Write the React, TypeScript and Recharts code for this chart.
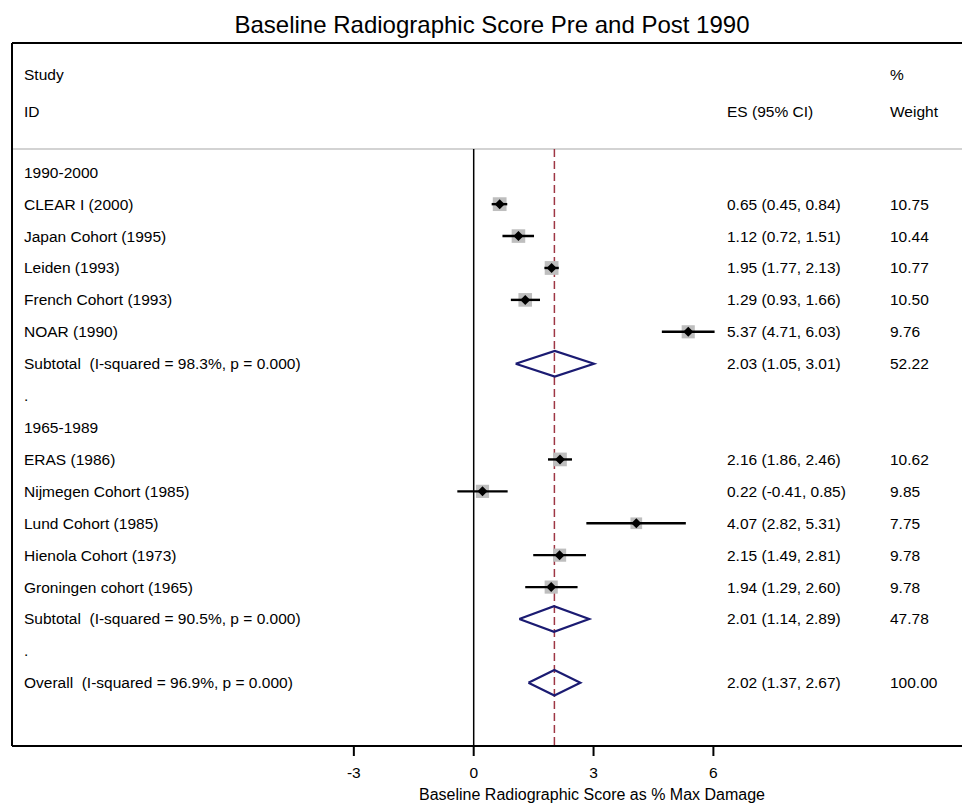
import React from "react";
import { ComposedChart, Scatter, XAxis, YAxis, ReferenceLine } from "recharts";

// rows of the forest plot, top to bottom
const labels = [
  "1990-2000",
  "CLEAR I (2000)",
  "Japan Cohort (1995)",
  "Leiden (1993)",
  "French Cohort (1993)",
  "NOAR (1990)",
  "Subtotal  (I-squared = 98.3%, p = 0.000)",
  ".",
  "1965-1989",
  "ERAS (1986)",
  "Nijmegen Cohort (1985)",
  "Lund Cohort (1985)",
  "Hienola Cohort (1973)",
  "Groningen cohort (1965)",
  "Subtotal  (I-squared = 90.5%, p = 0.000)",
  ".",
  "Overall  (I-squared = 96.9%, p = 0.000)",
];
const kinds = [
  "group", "study", "study", "study", "study", "study", "pooled", "blank",
  "group", "study", "study", "study", "study", "study", "pooled", "blank", "pooled",
];
const es = [null, 0.65, 1.12, 1.95, 1.29, 5.37, 2.03, null, null, 2.16, 0.22, 4.07, 2.15, 1.94, 2.01, null, 2.02];
const lcl = [null, 0.45, 0.72, 1.77, 0.93, 4.71, 1.05, null, null, 1.86, -0.41, 2.82, 1.49, 1.29, 1.14, null, 1.37];
const ucl = [null, 0.84, 1.51, 2.13, 1.66, 6.03, 3.01, null, null, 2.46, 0.85, 5.31, 2.81, 2.6, 2.89, null, 2.67];
const weights = [null, 10.75, 10.44, 10.77, 10.5, 9.76, 52.22, null, null, 10.62, 9.85, 7.75, 9.78, 9.78, 47.78, null, 100.0];

const overallES = 2.02;
const xTicks = [-3, 0, 3, 6];
const HEAD_STUDY = -3.05;
const HEAD_ID = -1.89;
const SEP = -0.73;
const Y_MIN = -4.05;
const Y_MAX = 17.98;

const FONT = "'Liberation Sans', Arial, Helvetica, sans-serif";
const NAVY = "#1b1b72";
const COL_LABEL = 24;
const COL_ES = 727;
const COL_W = 890;
const FS = 15.5;

const rows = labels.map((label, i) => ({ i, label, kind: kinds[i], es: es[i], lcl: lcl[i], ucl: ucl[i], w: weights[i] }));
const studies = rows.filter((r) => r.kind === "study").map((r) => ({ x: r.es, y: r.i, w: r.w }));
const pooled = rows.filter((r) => r.kind === "pooled");

const fmtCI = (r: any) => `${r.es.toFixed(2)} (${r.lcl.toFixed(2)}, ${r.ucl.toFixed(2)})`;

function RowTick(props: any) {
  const { y, payload } = props;
  const v = payload.value;
  const txt = { fontFamily: FONT, fontSize: FS, fill: "#000", dominantBaseline: "central" as const, style: { whiteSpace: "pre" as const } };
  if (v === HEAD_STUDY) {
    return (
      <g>
        <text x={COL_LABEL} y={y} {...txt}>Study</text>
        <text x={COL_W} y={y} {...txt}>%</text>
      </g>
    );
  }
  if (v === HEAD_ID) {
    return (
      <g>
        <text x={COL_LABEL} y={y} {...txt}>ID</text>
        <text x={COL_ES} y={y} {...txt}>ES (95% CI)</text>
        <text x={COL_W} y={y} {...txt}>Weight</text>
      </g>
    );
  }
  const r = rows[v];
  if (!r) return <g />;
  return (
    <g>
      <text x={COL_LABEL} y={y} {...txt}>{r.label}</text>
      {r.es != null && <text x={COL_ES} y={y} {...txt}>{fmtCI(r)}</text>}
      {r.w != null && <text x={COL_W} y={y} {...txt}>{r.w.toFixed(2)}</text>}
    </g>
  );
}

const WeightBox = (props: any) => {
  const { cx, cy, payload } = props;
  const s = 4.2 * Math.sqrt(payload.w);
  return <rect x={cx - s / 2} y={cy - s / 2} width={s} height={s} fill="#bebebe" />;
};

const PointMark = (props: any) => {
  const { cx, cy } = props;
  const d = 5;
  return <polygon points={`${cx - d},${cy} ${cx},${cy - d} ${cx + d},${cy} ${cx},${cy + d}`} fill="#000" />;
};

const NoMark = () => <g />;

export default function App() {
  return (
    <div style={{ position: "absolute", left: 0, top: 0, width: 962, height: 804, background: "#fff", overflow: "hidden" }}>
      <div
        style={{
          position: "absolute",
          top: 10,
          left: 12,
          width: 960,
          textAlign: "center",
          fontFamily: FONT,
          fontSize: 24,
          lineHeight: "30px",
          color: "#000",
        }}
      >
        Baseline Radiographic Score Pre and Post 1990
      </div>
      <ComposedChart width={962} height={804} margin={{ top: 43, right: 0, bottom: 0, left: 11 }}>
        <XAxis
          type="number"
          dataKey="x"
          domain={[-11.557, 12.223]}
          allowDataOverflow
          ticks={xTicks}
          interval={0}
          height={58}
          tickSize={10}
          tickMargin={11}
          stroke="#000"
          strokeWidth={2}
          tick={{ fontFamily: FONT, fontSize: FS, fill: "#000" }}
          label={{
            value: "Baseline Radiographic Score as % Max Damage",
            position: "insideBottom",
            dx: 105,
            offset: 4,
            style: { fontFamily: FONT, fontSize: 16, fill: "#000" },
          }}
        />
        <YAxis
          type="number"
          dataKey="y"
          domain={[Y_MIN, Y_MAX]}
          reversed
          allowDataOverflow
          width={1}
          ticks={[HEAD_STUDY, HEAD_ID, ...rows.map((r) => r.i)]}
          interval={0}
          tickLine={false}
          stroke="#000"
          strokeWidth={2}
          tick={<RowTick />}
        />
        <ReferenceLine y={Y_MIN} stroke="#000" strokeWidth={2} />
        <ReferenceLine y={SEP} stroke="#c4c4c4" strokeWidth={1.5} />
        <ReferenceLine segment={[{ x: 0, y: SEP }, { x: 0, y: Y_MAX }]} stroke="#000" strokeWidth={1.5} />
        <ReferenceLine
          segment={[{ x: overallES, y: SEP }, { x: overallES, y: Y_MAX }]}
          stroke="#9e3644"
          strokeWidth={1.5}
          strokeDasharray="8 4"
        />
        <Scatter data={studies} shape={<WeightBox />} isAnimationActive={false} />
        {rows
          .filter((r) => r.kind === "study")
          .map((r) => (
            <Scatter
              key={`ci${r.i}`}
              data={[
                { x: r.lcl, y: r.i },
                { x: r.ucl, y: r.i },
              ]}
              line={{ stroke: "#000", strokeWidth: 2.4 }}
              shape={<NoMark />}
              isAnimationActive={false}
            />
          ))}
        <Scatter data={studies} shape={<PointMark />} isAnimationActive={false} />
        {pooled.map((r) => (
          <Scatter
            key={`dm${r.i}`}
            data={[
              { x: r.lcl, y: r.i },
              { x: r.es, y: r.i - 0.4 },
              { x: r.ucl, y: r.i },
              { x: r.es, y: r.i + 0.4 },
              { x: r.lcl, y: r.i },
            ]}
            line={{ stroke: NAVY, strokeWidth: 2.2 }}
            shape={<NoMark />}
            isAnimationActive={false}
          />
        ))}
      </ComposedChart>
    </div>
  );
}
